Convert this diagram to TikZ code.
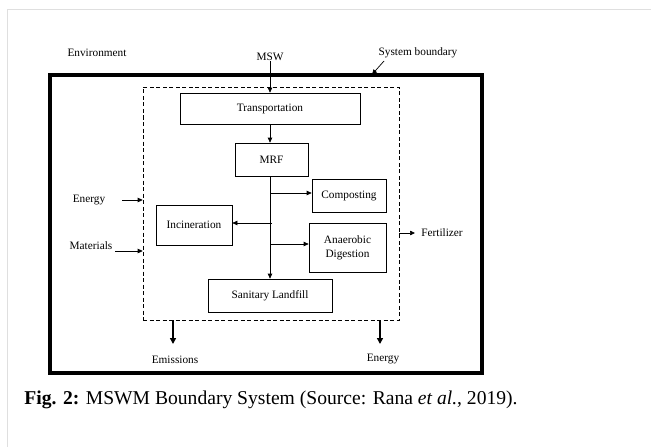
\documentclass[tikz,border=0pt]{standalone}
\usepackage{fontspec}
\setmainfont{Liberation Serif}
\usetikzlibrary{arrows.meta,calc}
\begin{document}
\begin{tikzpicture}[x=1pt,y=-1pt,
  every node/.style={font=\fontsize{11.3}{13}\selectfont, inner sep=0pt},
  box/.style={draw, line width=0.7pt, align=center},
  arr/.style={line width=0.7pt, -{Triangle[length=5pt,width=4.5pt]}},
  bigarr/.style={line width=2pt, -{Triangle[length=6pt,width=6pt]}},
  lbl/.style={anchor=center}]
\useasboundingbox (0,0) rectangle (651,447);
\draw[gray!25, line width=0.8pt] (7,447) -- (7,9) -- (651,9);
% outer system boundary
\node[draw, line width=3.5pt, minimum width=432pt, minimum height=298pt] (bound) at (266,224) {};
% inner dashed box
\node[draw, dashed, dash pattern=on 4pt off 2.5pt, line width=0.6pt, minimum width=256pt, minimum height=233pt] (sys) at (271,203.5) {};
% process boxes
\node[box, minimum width=180pt, minimum height=31pt] (trans) at (270,108.5) {Transportation};
\node[box, minimum width=73pt, minimum height=33pt] (mrf) at (271.5,159.5) {MRF};
\node[box, minimum width=74pt, minimum height=33pt] (comp) at (349,195.5) {Composting};
\node[box, minimum width=76pt, minimum height=40pt] (inc) at (194,225) {Incineration};
\node[box, minimum width=77pt, minimum height=49pt] (ad) at (347.5,247.5) {Anaerobic\\[1pt]Digestion};
\node[box, minimum width=124pt, minimum height=33pt] (land) at (270,295.5) {Sanitary Landfill};
% labels
\node (env) at (97,53) {Environment};
\node (msw) at (270,57) {MSW};
\node (sb) at (418,53) {System boundary};
\node (enl) at (89,200) {Energy};
\node (mat) at (91,246) {Materials};
\node (fert) at (442,233) {Fertilizer};
\node (emi) at (175,360) {Emissions};
\node (enr) at (383,359) {Energy};
% coordinates
\coordinate (trunkTop) at (270,176);
\coordinate (bComp) at (270,193);
\coordinate (bInc) at (272,223);
\coordinate (bAD) at (270,244);
\coordinate (sbStart) at (384,61);
\coordinate (sbEnd) at (372,74.5);
\coordinate (enlS) at (122,200);
\coordinate (matS) at (115,251);
\coordinate (fertS) at (399,233);
\coordinate (fertE) at (415,233);
\coordinate (emiS) at (173,320);
\coordinate (emiE) at (173,344);
\coordinate (enrS) at (380,320);
\coordinate (enrE) at (380,344);
% connectors
\draw[arr] (msw.south) -- (trans.north);
\draw[arr] (trans.south) -- (trans.south |- mrf.north);
\draw[arr] (trunkTop) -- (land.north);
\draw[arr] (bComp) -- (comp.west |- bComp);
\draw[arr] (bInc) -- (inc.east |- bInc);
\draw[arr] (bAD) -- (ad.west |- bAD);
\draw[arr] (sbStart) -- (sbEnd);
\draw[arr] (enlS) -- (enlS -| sys.west);
\draw[arr] (matS) -- (matS -| sys.west);
\draw[arr] (fertS) -- (fertE);
\draw[bigarr] (emiS) -- (emiE);
\draw[bigarr] (enrS) -- (enrE);
% caption
\node[font=\fontsize{19.6}{23}\selectfont] (cap) at (271,400) {\textbf{Fig. 2:} MSWM Boundary System (Source: Rana \textit{et al.}, 2019).};
\end{tikzpicture}
\end{document}
